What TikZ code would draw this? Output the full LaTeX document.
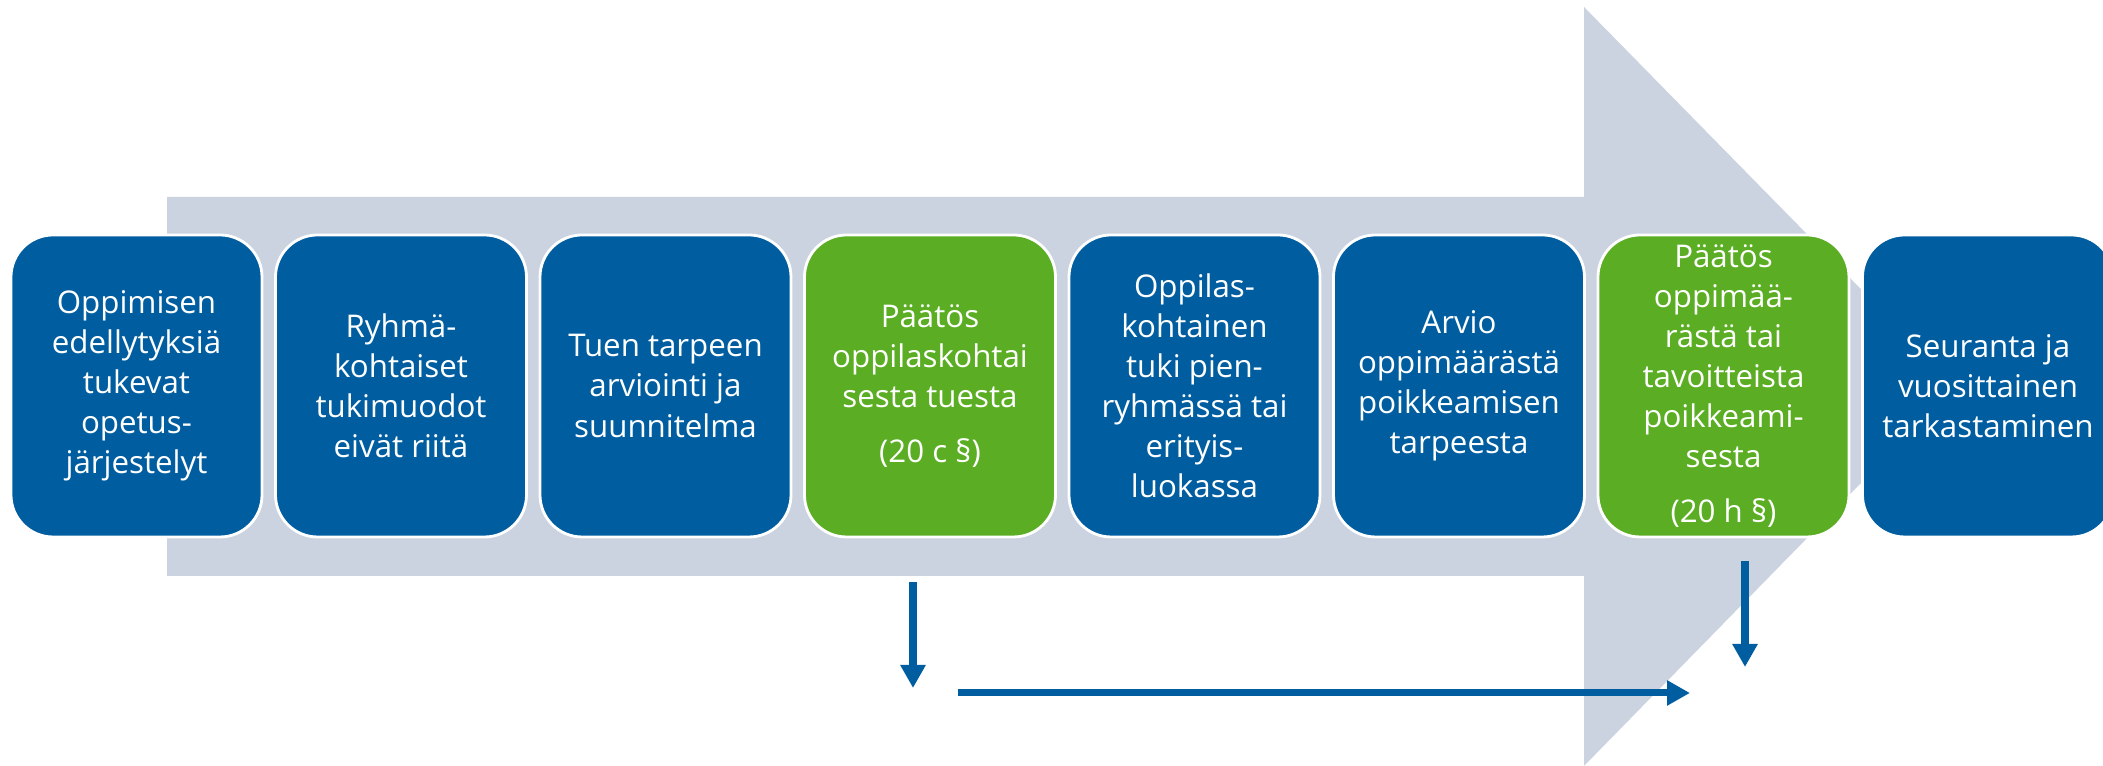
\documentclass[tikz,border=0pt]{standalone}
\usepackage{fontspec}
\setmainfont{Open Sans}
\usetikzlibrary{positioning}
\usetikzlibrary{positioning, arrows.meta}
\definecolor{stepblue}{RGB}{0,94,160}
\definecolor{stepgreen}{RGB}{91,174,36}
\definecolor{flowgray}{RGB}{203,211,224}

\begin{document}
\begin{tikzpicture}
        % Define styles for shapes
        \tikzstyle{bluebox} = [draw=white, line width=0.8pt, fill=stepblue, rounded corners=0.42cm, minimum width=2.51cm, minimum height=3.02cm, inner sep=0pt, outer sep=0pt, text=white, align=center, font=\fontsize{8.9}{11.4}\selectfont]
        \tikzstyle{greenbox} = [bluebox, fill=stepgreen]
        \tikzstyle{blueline} = [draw=stepblue, line width=2pt, -{Triangle[length=0.23cm, width=0.24cm]}]
        \useasboundingbox (0,0) rectangle (21.03,7.66);
        % Big arrow behind the boxes
        \fill[flowgray] (1.67,5.69) -- (15.84,5.69) -- (15.84,7.59) -- (19.56,3.80)
            -- (15.84,0) -- (15.84,1.90) -- (1.67,1.90) -- cycle;
        % Draw shapes
        \node[bluebox] (box1) at (1.365, 3.80) {Oppimisen\\edellytyksiä\\tukevat\\opetus-\\järjestelyt};
        \node[bluebox, right=0.135cm of box1] (box2) {Ryhmä-\\kohtaiset\\tukimuodot\\eivät riitä};
        \node[bluebox, right=0.135cm of box2] (box3) {Tuen tarpeen\\arviointi ja\\suunnitelma};
        \node[greenbox, right=0.135cm of box3] (box4) {Päätös\\oppilaskohtai\\sesta tuesta\\[4pt](20 c §)};
        \node[bluebox, right=0.135cm of box4] (box5) {Oppilas-\\kohtainen\\tuki pien-\\ryhmässä tai\\erityis-\\luokassa};
        \node[bluebox, right=0.135cm of box5] (box6) {Arvio\\oppimäärästä\\poikkeamisen\\tarpeesta};
        \node[greenbox, right=0.135cm of box6] (box7) {Päätös\\oppimää-\\rästä tai\\tavoitteista\\poikkeami-\\sesta\\[4pt](20 h §)};
        \node[bluebox, right=0.135cm of box7] (box8) {Seuranta ja\\vuosittainen\\tarkastaminen};

        % Arrow ends under the decisions
        \coordinate (dec1top) at (9.13,1.84);
        \coordinate (dec1end) at (9.13,0.78);
        \coordinate (flowstart) at (9.58,0.73);
        \coordinate (flowend) at (16.90,0.73);
        \coordinate (dec2top) at (17.45,2.05);
        \coordinate (dec2end) at (17.45,0.99);

        % Draw arrows
        \draw[blueline] (dec1top) -- (dec1end);
        \draw[blueline] (flowstart) -- (flowend);
        \draw[blueline] (dec2top) -- (dec2end);
    \end{tikzpicture}
\end{document}
